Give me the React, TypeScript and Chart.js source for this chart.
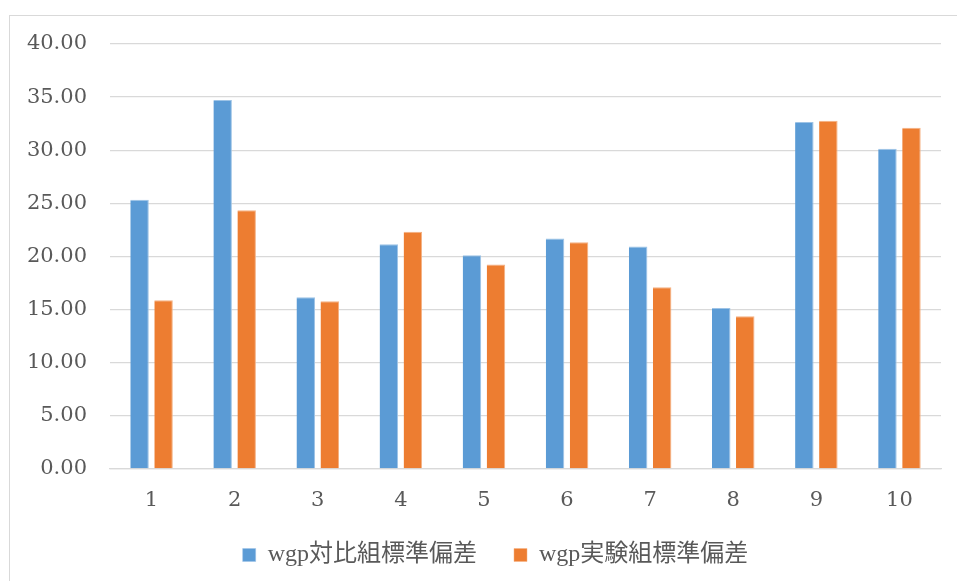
import React, { useEffect, useRef } from "react";
import { Chart, registerables } from "chart.js";

Chart.register(...registerables);

const categories = ["1", "2", "3", "4", "5", "6", "7", "8", "9", "10"];
const controlSD = [25.33, 34.72, 16.17, 21.16, 20.12, 21.69, 20.93, 15.16, 32.65, 30.13];
const experimentSD = [15.88, 24.36, 15.79, 22.32, 19.24, 21.35, 17.11, 14.38, 32.77, 32.11];
const seriesNames = ["wgp対比組標準偏差", "wgp実験組標準偏差"];

const TICK_FONT = '"DejaVu Serif", "Noto Sans CJK JP", serif';
const LEGEND_FONT = '"Liberation Serif", "Noto Sans CJK JP", serif';

const legendShift = {
  id: "legendShift",
  afterLayout(chart: any) {
    const lg = chart.legend;
    if (!lg) return;
    lg.left += 25;
    lg.right += 25;
    lg.top -= 7;
    lg.bottom -= 7;
  },
};

export default function App() {
  const ref = useRef<HTMLCanvasElement | null>(null);

  useEffect(() => {
    document.body.style.margin = "0";
    const canvas = ref.current;
    if (!canvas) return;
    const chart = new Chart(canvas, {
      type: "bar",
      data: {
        labels: categories,
        datasets: [
          {
            label: seriesNames[0],
            data: controlSD,
            backgroundColor: "#5B9BD5",
            borderColor: "#9DC3E6",
            borderWidth: { left: 0, right: 1, top: 1, bottom: 0 },
            barPercentage: 0.77,
            categoryPercentage: 0.578,
          },
          {
            label: seriesNames[1],
            data: experimentSD,
            backgroundColor: "#ED7D31",
            borderColor: "#F4B183",
            borderWidth: { left: 0, right: 1, top: 1, bottom: 0 },
            barPercentage: 0.77,
            categoryPercentage: 0.578,
          },
        ],
      },
      plugins: [legendShift],
      options: {
        animation: false,
        responsive: false,
        maintainAspectRatio: false,
        layout: { padding: { top: 44, right: 16, left: 0, bottom: 4 } },
        scales: {
          x: {
            grid: { display: false, drawTicks: false },
            border: { display: true, color: "#D9D9D9", width: 1.3 },
            ticks: { color: "#595959", font: { family: TICK_FONT, size: 21 }, padding: 19 },
            afterFit: (s: any) => {
              s.height = 44;
            },
          },
          y: {
            min: 0,
            max: 40,
            ticks: {
              stepSize: 5,
              color: "#595959",
              font: { family: TICK_FONT, size: 21 },
              padding: 23,
              callback: (v: any) => Number(v).toFixed(2),
            },
            grid: { color: "#D9D9D9", lineWidth: 1.3, drawTicks: false },
            border: { display: false },
            afterFit: (s: any) => {
              s.width = 110;
            },
          },
        },
        plugins: {
          legend: {
            position: "bottom",
            maxHeight: 64,
            labels: {
              color: "#595959",
              font: { family: LEGEND_FONT, size: 24 },
              boxWidth: 13,
              boxHeight: 13,
              padding: 37,
            },
          },
          tooltip: { enabled: false },
        },
      },
    } as any);
    return () => chart.destroy();
  }, []);

  return (
    <div style={{ position: "relative", width: 957, height: 581, overflow: "hidden", background: "#fff" }}>
      <div
        style={{
          position: "absolute",
          left: 9,
          top: 15,
          width: 1000,
          height: 700,
          borderLeft: "1px solid #D9D9D9",
          borderTop: "1px solid #D9D9D9",
          boxSizing: "border-box",
        }}
      />
      <canvas ref={ref} width={957} height={581} style={{ position: "absolute", left: 0, top: 0 }} />
    </div>
  );
}
